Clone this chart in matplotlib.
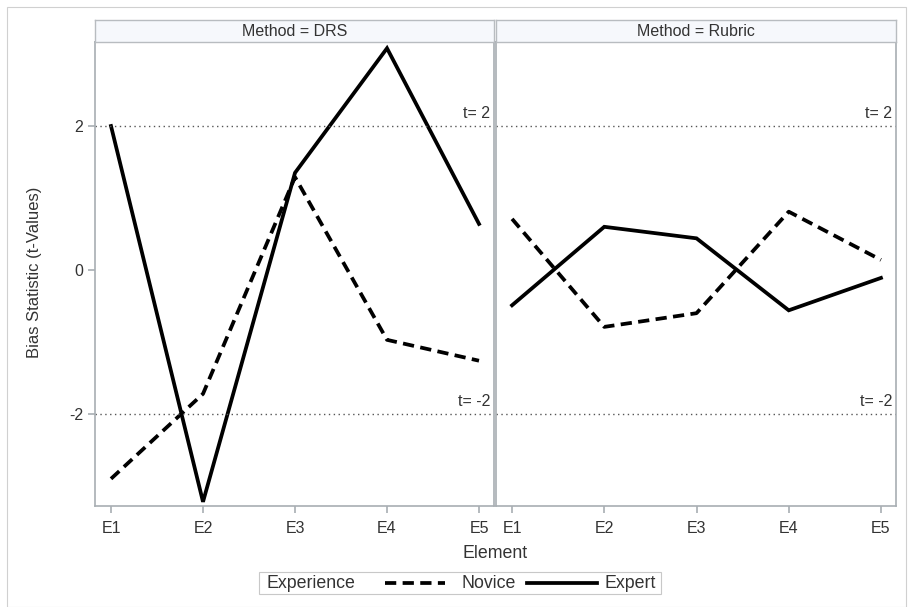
import matplotlib.pyplot as plt
from matplotlib.lines import Line2D
from matplotlib.patches import Rectangle

# Data
elements = ["E1", "E2", "E3", "E4", "E5"]
methods = ["DRS", "Rubric"]
novice_drs = [-2.90, -1.72, 1.29, -0.97, -1.26]
expert_drs = [2.00, -3.22, 1.35, 3.08, 0.64]
novice_rubric = [0.71, -0.79, -0.60, 0.81, 0.14]
expert_rubric = [-0.49, 0.60, 0.44, -0.56, -0.11]
ref_levels = [2, -2]
ref_labels = ["t= 2", "t= -2"]
yticks = [-2, 0, 2]

plt.rcParams['font.family'] = ['Liberation Sans', 'DejaVu Sans']
plt.rcParams['axes.unicode_minus'] = False

W, H = 908, 607
fig = plt.figure(figsize=(W / 100, H / 100), dpi=100)

# outer frame
fig.patches.append(Rectangle((7 / W, 0), 899 / W, 1 - 6.5 / H, transform=fig.transFigure,
                             fill=False, edgecolor='#d0d0d0', lw=0.8))

spine_col = '#a8aeb3'
text_col = '#333333'
dash = (0, (3.0, 1.7))
lw = 2.7

panel_x = [(95, 494), (496, 896)]
top, bottom = 42, 506
x = list(range(1, len(elements) + 1))
series = {"DRS": (novice_drs, expert_drs), "Rubric": (novice_rubric, expert_rubric)}

for i, m in enumerate(methods):
    x0, x1 = panel_x[i]
    ax = fig.add_axes([x0 / W, 1 - bottom / H, (x1 - x0) / W, (bottom - top) / H])
    nov, exp = series[m]
    ax.plot(x, nov, color='black', lw=lw, linestyle=dash, dash_capstyle='butt')
    ax.plot(x, exp, color='black', lw=lw, solid_joinstyle='miter')
    for lev, lab in zip(ref_levels, ref_labels):
        ax.axhline(lev, color='#555555', lw=1.0, linestyle=(0, (1, 2.5)))
        ax.text(0.99, lev + 0.07, lab, transform=ax.get_yaxis_transform(),
                ha='right', va='bottom', fontsize=11.5, color=text_col)
    ax.set_xlim(0.826, 5.163)
    ax.set_ylim(-3.278, 3.167)
    ax.set_xticks(x)
    ax.set_xticklabels(elements)
    ax.set_yticks(yticks)
    ax.set_yticklabels([str(v) for v in yticks])
    for s in ax.spines.values():
        s.set_color(spine_col)
        s.set_linewidth(1.2)
    ax.tick_params(axis='both', colors=spine_col, labelcolor=text_col, labelsize=11.5,
                   length=5, width=1.2)
    ax.tick_params(axis='x', pad=6)
    if i > 0:
        ax.tick_params(axis='y', left=False, labelleft=False)

    # header strip
    hdr = fig.add_axes([x0 / W, 1 - top / H, (x1 - x0) / W, 22 / H])
    hdr.set_xticks([])
    hdr.set_yticks([])
    hdr.set_facecolor('#f6f8fc')
    for s in hdr.spines.values():
        s.set_color('#b8bcc0')
        s.set_linewidth(1.0)
    hdr.text(0.5, 0.5, f"Method = {m}", ha='center', va='center', fontsize=11.5,
             color=text_col, transform=hdr.transAxes)

fig.text(35 / W, 1 - 272 / H, "Bias Statistic (t-Values)", rotation=90,
         ha='center', va='center', fontsize=12, color=text_col)
fig.text(495 / W, 1 - 553 / H, "Element", ha='center', va='center', fontsize=12.8,
         color=text_col)

# legend box
fig.patches.append(Rectangle((259 / W, 1 - 594 / H), 402 / W, 22 / H,
                             transform=fig.transFigure, fill=False,
                             edgecolor='#c8c8c8', lw=0.8))
ly = 1 - 583 / H
fig.text(266 / W, ly, "Experience", ha='left', va='center', fontsize=12.8, color=text_col)
fig.lines.append(Line2D([385 / W, 445 / W], [ly, ly], transform=fig.transFigure,
                        color='black', lw=lw, linestyle=dash, dash_capstyle='butt'))
fig.text(462 / W, ly, "Novice", ha='left', va='center', fontsize=12.8, color=text_col)
fig.lines.append(Line2D([527 / W, 597 / W], [ly, ly], transform=fig.transFigure,
                        color='black', lw=lw))
fig.text(605 / W, ly, "Expert", ha='left', va='center', fontsize=12.8, color=text_col)

fig.savefig("out.png", dpi=100)
